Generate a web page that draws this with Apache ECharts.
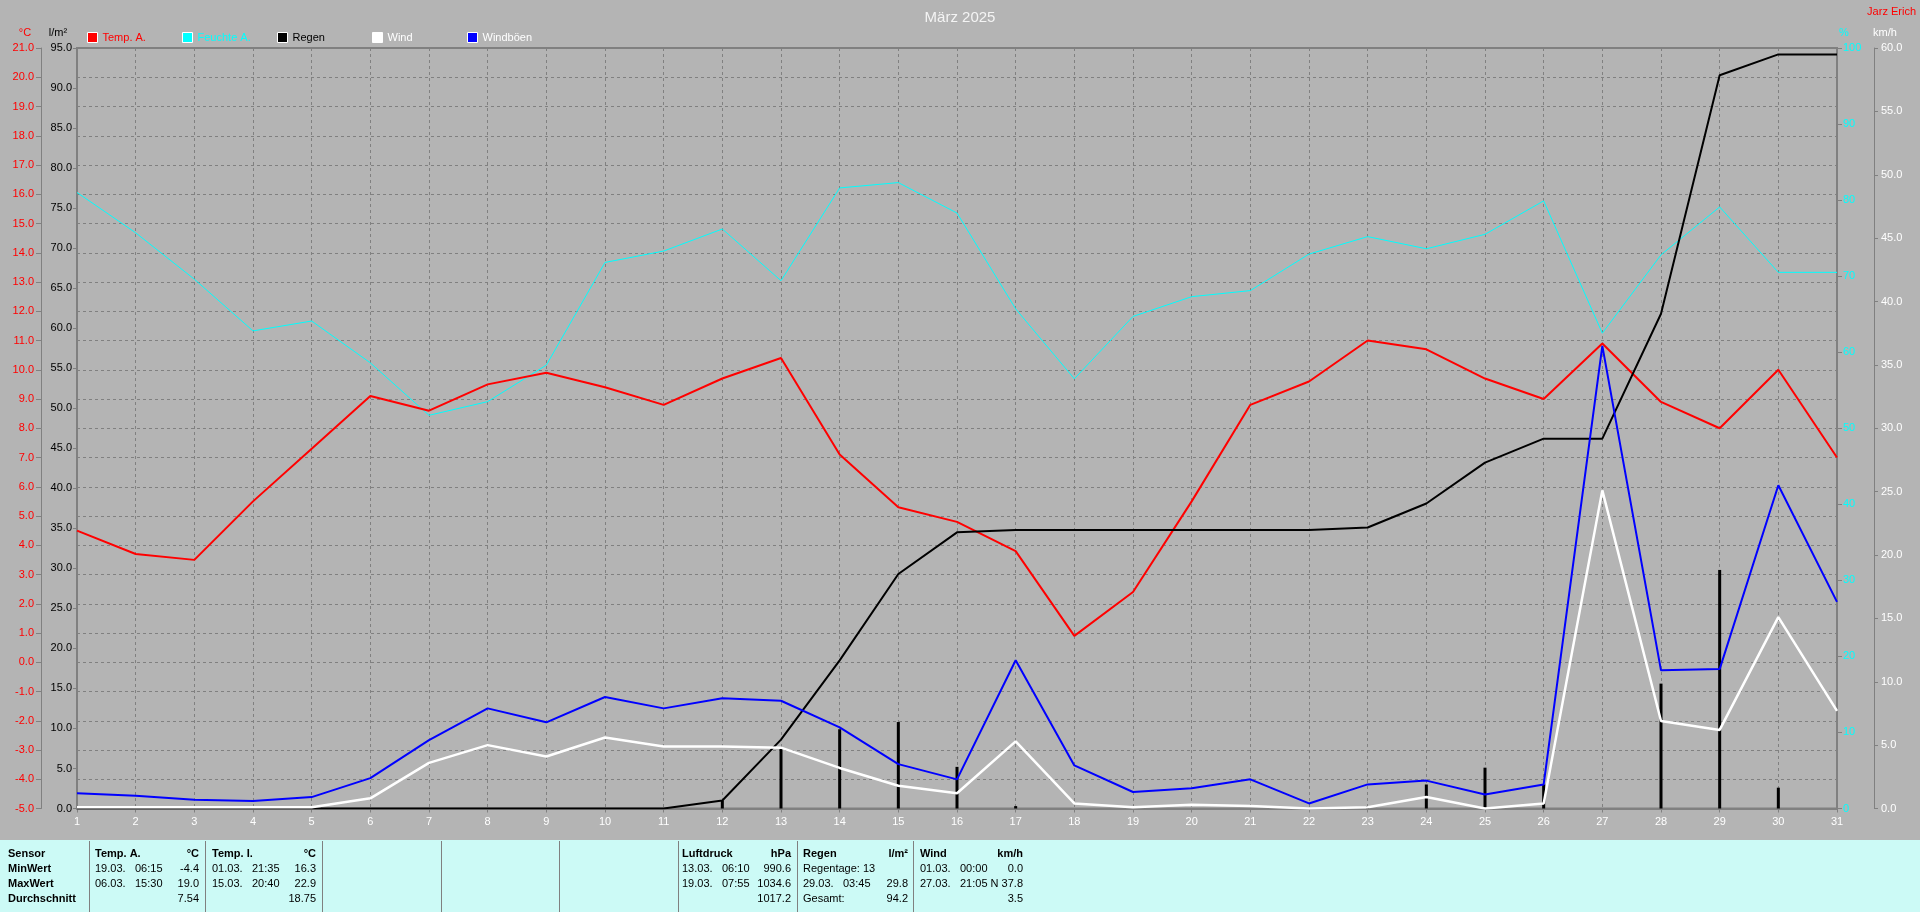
<!DOCTYPE html>
<html><head><meta charset="utf-8">
<script src="https://cdn.jsdelivr.net/npm/echarts@6/dist/echarts.min.js"></script>
<style>html,body{margin:0;padding:0;background:#b4b4b4;overflow:hidden}#c{width:1920px;height:912px}</style>
</head><body><div id="c"></div>
<script>
// ---- data ----
const days = ['1','2','3','4','5','6','7','8','9','10','11','12','13','14','15','16','17','18','19','20','21','22','23','24','25','26','27','28','29','30','31'];
const tempA = [4.5,3.7,3.5,5.5,7.3,9.1,8.6,9.5,9.9,9.4,8.8,9.7,10.4,7.1,5.3,4.8,3.8,0.9,2.4,5.5,8.8,9.6,11.0,10.7,9.7,9.0,10.9,8.9,8.0,10.0,7.0];
const feuchteA = [81.0,75.7,69.6,62.8,64.1,58.6,51.7,53.5,58.3,71.8,73.3,76.2,69.4,81.6,82.3,78.3,65.7,56.5,64.7,67.3,68.1,72.9,75.2,73.6,75.5,79.9,62.5,72.8,79.1,70.5,70.5];
const regenSumme = [0,0,0,0,0,0,0,0,0,0,0,1.0,8.6,18.5,29.3,34.5,34.8,34.8,34.8,34.8,34.8,34.8,35.1,38.1,43.2,46.2,46.2,61.8,91.6,94.2,94.2];
const regenTag = [0,0,0,0,0,0,0,0,0,0,0,1.0,7.6,9.9,10.8,5.2,0.3,0,0,0,0,0,0.3,3.0,5.1,3.0,0,15.6,29.8,2.6,0];
const wind = [0.1,0.1,0.1,0.1,0.1,0.8,3.6,5.0,4.1,5.6,4.9,4.9,4.8,3.2,1.8,1.2,5.3,0.4,0.1,0.3,0.2,0.0,0.1,0.9,0.0,0.4,25.1,6.9,6.2,15.1,7.7];
const windboeen = [1.2,1.0,0.7,0.6,0.9,2.4,5.4,7.9,6.8,8.8,7.9,8.7,8.5,6.4,3.5,2.3,11.7,3.4,1.3,1.6,2.3,0.4,1.9,2.2,1.1,1.9,36.5,10.9,11.0,25.5,16.3];
// axis ranges
const tempRange = {min:-5, max:21, interval:1};
const rainRange = {min:0, max:95, interval:5};
const humRange = {min:0, max:100, interval:10};
const windRange = {min:0, max:60, interval:5};
// legend
const legendNames = ['Temp. A.','Feuchte A.','Regen','Wind','Windböen'];
const legendTextColors = ['#ff0000','#00ffff','#000000','#ffffff','#ffffff'];
// summary table
const tableCols = [
  {x:95, r:199, head:'Temp. A.', unit:'°C', rows:[['19.03.','06:15','-4.4'],['06.03.','15:30','19.0'],['','','7.54']]},
  {x:212, r:316, head:'Temp. I.', unit:'°C', rows:[['01.03.','21:35','16.3'],['15.03.','20:40','22.9'],['','','18.75']]},
  {x:682, r:791, head:'Luftdruck', unit:'hPa', rows:[['13.03.','06:10','990.6'],['19.03.','07:55','1034.6'],['','','1017.2']]},
  {x:803, r:908, head:'Regen', unit:'l/m²', rows:[['Regentage: 13','',''],['29.03.','03:45','29.8'],['Gesamt:','','94.2']]},
  {x:920, r:1023, head:'Wind', unit:'km/h', rows:[['01.03.','00:00','0.0'],['27.03.','21:05','N 37.8'],['','','3.5']]}
];
const rowLabels = ['Sensor','MinWert','MaxWert','Durchschnitt'];
const dividers = [89,205,322,441,559,678,797,913];

const FF = 'Liberation Sans, Arial, sans-serif';
const GRAY = '#808080';

const chart = echarts.init(document.getElementById('c'));

const g = [];
// table
g.push({type:'rect', shape:{x:0,y:840,width:1920,height:72}, style:{fill:'#ccfaf6'}, z:1});
dividers.forEach(x => g.push({type:'line', shape:{x1:x+0.5,y1:841,x2:x+0.5,y2:912}, style:{stroke:GRAY,lineWidth:1}, z:2}));
const rowY = [854, 869, 884, 899];
rowLabels.forEach((t,i) => g.push({type:'text', x:8, y:rowY[i], style:{text:t, font:'bold 11px '+FF, fill:'#000', textVerticalAlign:'middle'}, z:3}));
tableCols.forEach(c => {
  g.push({type:'text', x:c.x, y:rowY[0], style:{text:c.head, font:'bold 11px '+FF, fill:'#000', textVerticalAlign:'middle'}, z:3});
  g.push({type:'text', x:c.r, y:rowY[0], style:{text:c.unit, font:'bold 11px '+FF, fill:'#000', textAlign:'right', textVerticalAlign:'middle'}, z:3});
  c.rows.forEach((r,i) => {
    const y = rowY[i+1];
    if (r[0]) g.push({type:'text', x:c.x, y:y, style:{text:r[0], font:'11px '+FF, fill:'#000', textVerticalAlign:'middle'}, z:3});
    if (r[1]) g.push({type:'text', x:c.x+40, y:y, style:{text:r[1], font:'11px '+FF, fill:'#000', textVerticalAlign:'middle'}, z:3});
    if (r[2]) g.push({type:'text', x:c.r, y:y, style:{text:r[2], font:'11px '+FF, fill:'#000', textAlign:'right', textVerticalAlign:'middle'}, z:3});
  });
});
// unit headers & author
const hdr = (t,x,y,color,align) => g.push({type:'text', x:x, y:y, style:{text:t, font:'11px '+FF, fill:color, textAlign:align, textVerticalAlign:'middle'}, z:3});
hdr('°C', 25, 33, '#ff0000', 'center');
hdr('l/m²', 58, 33, '#000000', 'center');
hdr('%', 1844, 33, '#00ffff', 'center');
hdr('km/h', 1873, 33, '#ffffff', 'left');
hdr('Jarz Erich', 1916, 12, '#ff0000', 'right');

const lbl = (color, dec) => ({color:color, fontSize:11, fontFamily:FF, formatter: v => dec ? Number(v).toFixed(dec) : String(v)});

const legends = legendNames.map((n,i) => ({
  left: 87 + i*95, top: 32, padding: 0, itemWidth: 10, itemHeight: 10, icon: 'rect', selectedMode: false,
  itemStyle: {borderColor:'#ffffff', borderWidth:1},
  textStyle: {fontSize:11, fontFamily:FF, color:legendTextColors[i]},
  data: [n]
}));

chart.setOption({
  animation:false,
  backgroundColor:'#b4b4b4',
  title:{text:'März 2025', left:'center', top:5, textStyle:{color:'#f4f4f4', fontSize:15, fontWeight:'normal', fontFamily:FF}},
  legend: legends,
  grid:{left:77, right:83, top:48, bottom:103.5, show:true, borderColor:GRAY, borderWidth:2, backgroundColor:'transparent'},
  xAxis:{type:'category', data:days, boundaryGap:false,
    axisLine:{onZero:false, lineStyle:{color:GRAY, width:2}},
    axisTick:{show:true, length:4, interval:0, lineStyle:{color:GRAY}},
    axisLabel:{interval:0, color:'#ffffff', fontSize:11, fontFamily:FF, margin:8},
    splitLine:{show:true, interval:0, lineStyle:{color:GRAY, type:[3,3], width:1}}},
  yAxis:[
    {type:'value', position:'left', offset:36, min:tempRange.min, max:tempRange.max, interval:tempRange.interval,
      axisLine:{show:true, onZero:false, lineStyle:{color:GRAY, width:1}}, axisTick:{show:true, length:5, lineStyle:{color:GRAY}},
      axisLabel:Object.assign(lbl('#ff0000',1),{margin:7}),
      splitLine:{show:true, lineStyle:{color:GRAY, type:[3,3], width:1}}},
    {type:'value', position:'left', offset:0, min:rainRange.min, max:rainRange.max, interval:rainRange.interval,
      axisLine:{show:true, onZero:false, lineStyle:{color:GRAY, width:2}}, axisTick:{show:true, length:4, lineStyle:{color:GRAY}},
      axisLabel:Object.assign(lbl('#000000',1),{margin:5}), splitLine:{show:false}},
    {type:'value', position:'right', offset:0, min:humRange.min, max:humRange.max, interval:humRange.interval,
      axisLine:{show:true, onZero:false, lineStyle:{color:GRAY, width:2}}, axisTick:{show:true, length:5, lineStyle:{color:GRAY}},
      axisLabel:Object.assign(lbl('#00ffff',0),{margin:6}), splitLine:{show:false}},
    {type:'value', position:'right', offset:37, min:windRange.min, max:windRange.max, interval:windRange.interval,
      axisLine:{show:true, onZero:false, lineStyle:{color:GRAY, width:1}}, axisTick:{show:true, length:4, lineStyle:{color:GRAY}},
      axisLabel:Object.assign(lbl('#ffffff',1),{margin:7}), splitLine:{show:false}}
  ],
  graphic:g,
  series:[
    {name:'Feuchte A.', type:'line', yAxisIndex:2, data:feuchteA, showSymbol:false, color:'#00ffff', lineStyle:{width:1, color:'#00ffff'}},
    {name:'Temp. A.', type:'line', yAxisIndex:0, data:tempA, showSymbol:false, color:'#ff0000', lineStyle:{width:2, color:'#ff0000'}},
    {name:'Regen', type:'line', yAxisIndex:1, data:regenSumme, showSymbol:false, color:'#000000', lineStyle:{width:2, color:'#000000'}},
    {name:'Wind', type:'line', yAxisIndex:3, data:wind, showSymbol:false, color:'#ffffff', lineStyle:{width:2.5, color:'#ffffff'}},
    {name:'Windböen', type:'line', yAxisIndex:3, data:windboeen, showSymbol:false, color:'#0000ff', lineStyle:{width:2, color:'#0000ff'}},
    {name:'Regen Tag', type:'bar', yAxisIndex:1, data:regenTag, barWidth:3, itemStyle:{color:'#000000'}}
  ]
});
</script></body></html>
